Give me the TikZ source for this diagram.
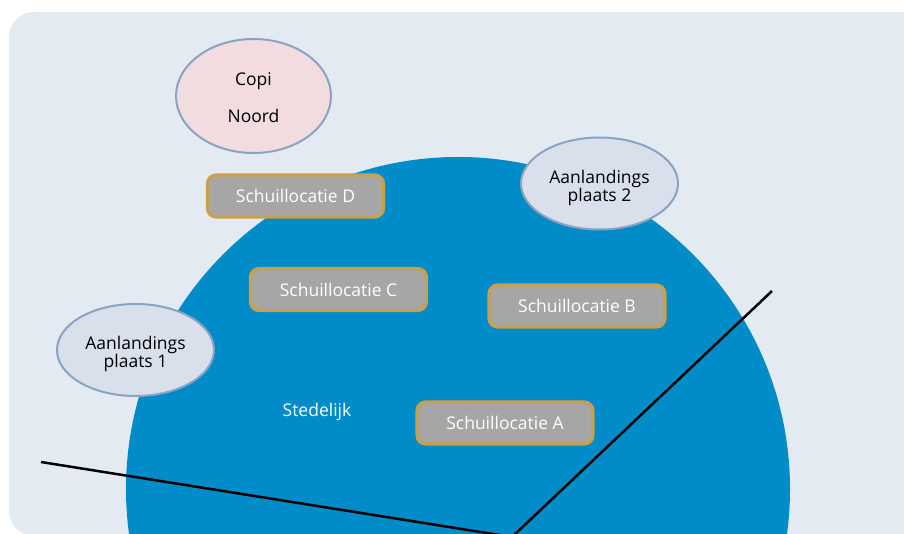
\documentclass[tikz,border=0pt]{standalone}
\usepackage{fontspec}
\setmainfont{Open Sans}
\usetikzlibrary{shapes.geometric}
\definecolor{bgc}{HTML}{E4EAF2}
\definecolor{bluec}{HTML}{008BC9}
\definecolor{boxfill}{HTML}{A6A6A6}
\definecolor{boxline}{HTML}{C9A04B}
\definecolor{ellline}{HTML}{8AA3C2}
\definecolor{pinkfill}{HTML}{F2DCE0}
\definecolor{greyfill}{HTML}{D9E0EB}
\begin{document}
\begin{tikzpicture}[x=1pt,y=-1pt,
  schuil/.style={draw=boxline, line width=3.3pt, fill=boxfill, rounded corners=9pt,
    minimum width=176pt, minimum height=42pt, inner sep=0pt, text=white,
    font=\fontsize{17.5}{19}\selectfont},
  landing/.style={ellipse, draw=ellline, line width=2pt, fill=greyfill,
    minimum width=157pt, minimum height=92pt, inner sep=0pt},
  ltext/.style={align=center, text=black, inner sep=0pt, font=\fontsize{17.5}{18}\selectfont},
  border/.style={line width=2.5pt, black}]
\useasboundingbox (0,0) rectangle (904,534);
\clip (0,0) rectangle (904,534);
\fill[bgc, rounded corners=25pt] (9,12) rectangle (930,536);
\fill[bluec] (458,489) circle[radius=332];
\node[schuil] (D) at (295.5,196) {Schuillocatie D};
\node[schuil] (C) at (338.5,289.5) {Schuillocatie C};
\node[schuil] (B) at (577,306) {Schuillocatie B};
\node[schuil] (A) at (505,423) {Schuillocatie A};
\node[landing] (L2) at (599.5,183.5) {};
\node[ltext] (L2t) at (599.5,187.5) {Aanlandings\\plaats 2};
\node[landing] (L1) at (135.5,350) {};
\node[ltext] (L1t) at (135.5,354) {Aanlandings\\plaats 1};
\node[landing, fill=pinkfill, minimum width=155pt, minimum height=114pt] (CN) at (253.5,96) {};
\node[ltext] (CNt) at (253.5,98) {Copi\\[19pt]Noord};
\node[text=white, font=\fontsize{17.5}{19}\selectfont] (S) at (317,412) {Stedelijk};
\coordinate (P1) at (41,462);
\coordinate (V) at (512,537);
\coordinate (P2) at (772,291);
\draw[border] (P1) -- (V) -- (P2);
\end{tikzpicture}
\end{document}
